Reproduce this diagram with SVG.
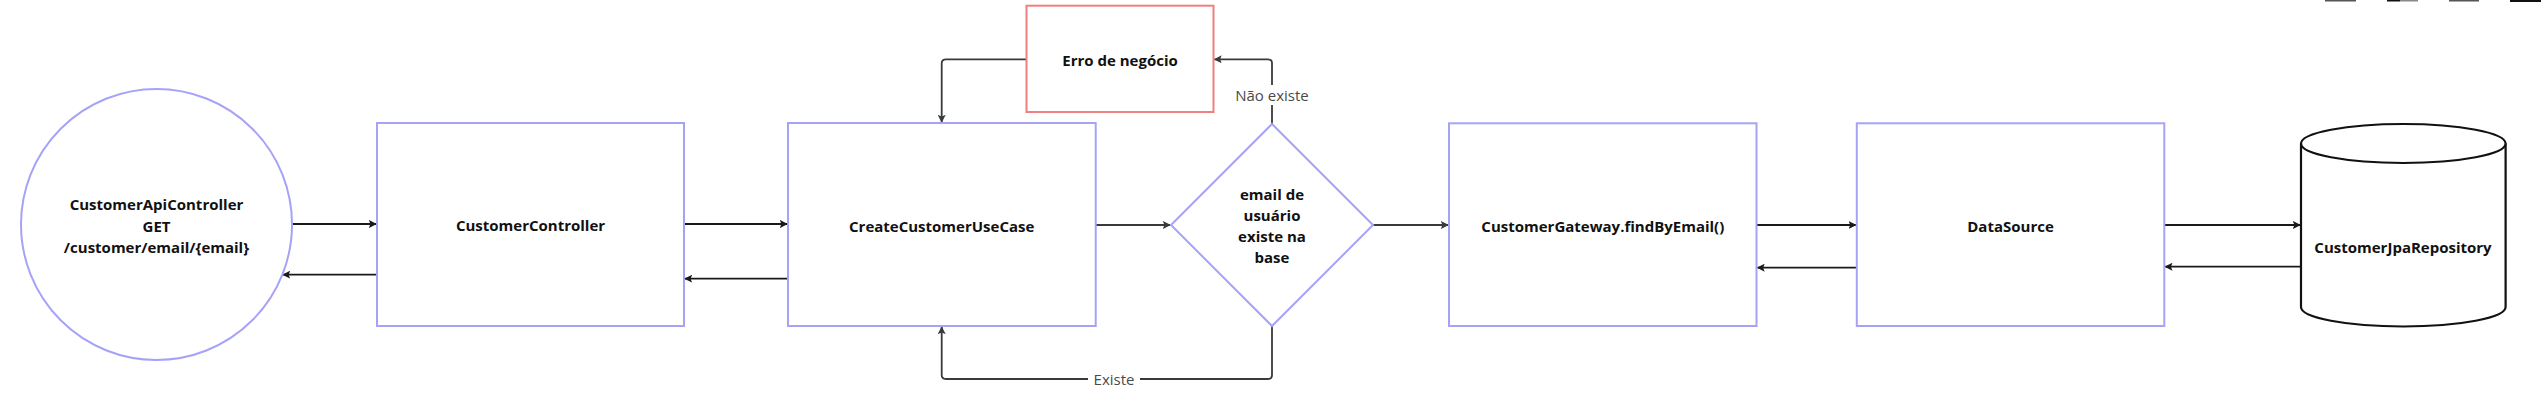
<svg xmlns="http://www.w3.org/2000/svg" width="2548" height="414" viewBox="0 0 2548 414">
  <style>
    .node { fill: #ffffff; stroke: #a6a3f7; stroke-width: 2; }
    .err { fill: #ffffff; stroke: #f07f7f; stroke-width: 2; }
    .db { fill: #ffffff; stroke: #111111; stroke-width: 2.2; }
    .t { font-family: "Open Sans", "Noto Sans", "Liberation Sans", sans-serif; font-size: 15px; font-weight: 700; fill: #111111; text-anchor: middle; dominant-baseline: central; }
    .lbl { font-family: "Open Sans", "Noto Sans", "Liberation Sans", sans-serif; font-size: 15px; font-weight: 400; fill: #4a4a4a; text-anchor: middle; dominant-baseline: central; }
    .c { fill: none; stroke: #1a1a1a; stroke-width: 1.8; }
    .cd { fill: none; stroke: #3a3a3a; stroke-width: 1.8; stroke-linejoin: round; }
  </style>
  <defs>
    <marker id="ah" viewBox="0 0 10 10" refX="9" refY="5" markerWidth="8" markerHeight="8" markerUnits="userSpaceOnUse" orient="auto">
      <path d="M0,0 L10,5 L0,10 L2,5 Z" fill="#1a1a1a"/>
    </marker>
    <marker id="ahd" viewBox="0 0 10 10" refX="9" refY="5" markerWidth="8" markerHeight="8" markerUnits="userSpaceOnUse" orient="auto">
      <path d="M0,0 L10,5 L0,10 L2,5 Z" fill="#3a3a3a"/>
    </marker>
  </defs>
  <rect width="2548" height="414" fill="#ffffff"/>

  <g id="toolbar-fragments">
    <rect x="2325" y="0" width="31" height="1.5" fill="#555555"/>
    <rect x="2387" y="0" width="13" height="1.5" fill="#111111"/>
    <rect x="2400" y="0" width="18" height="1.5" fill="#888888"/>
    <rect x="2449" y="0" width="30" height="1.5" fill="#555555"/>
    <rect x="2510" y="0" width="31" height="2" fill="#111111"/>
  </g>

  <g id="connectors">
    <line class="c" x1="292" y1="224" x2="376" y2="224" marker-end="url(#ah)"/>
    <line class="c" x1="377" y1="274.7" x2="283" y2="274.7" marker-end="url(#ah)"/>
    <line class="c" x1="684" y1="224" x2="787" y2="224" marker-end="url(#ah)"/>
    <line class="c" x1="788" y1="278.7" x2="685" y2="278.7" marker-end="url(#ah)"/>
    <line class="cd" x1="1096" y1="225" x2="1170" y2="225" marker-end="url(#ahd)"/>
    <line class="cd" x1="1373" y1="225" x2="1448" y2="225" marker-end="url(#ahd)"/>
    <path class="cd" d="M1272,124 V63 Q1272,59.3 1268,59.3 H1214.5" marker-end="url(#ahd)"/>
    <path class="cd" d="M1026.5,59.3 H946 Q941.7,59.3 941.7,63.5 V122" marker-end="url(#ahd)"/>
    <path class="cd" d="M1272,326 V375 Q1272,379 1268,379 H946 Q941.7,379 941.7,375 V327" marker-end="url(#ahd)"/>
    <line class="c" x1="1756.5" y1="225" x2="1855.8" y2="225" marker-end="url(#ah)"/>
    <line class="c" x1="1856.8" y1="267.7" x2="1757.5" y2="267.7" marker-end="url(#ah)"/>
    <line class="c" x1="2164.3" y1="225" x2="2300" y2="225" marker-end="url(#ah)"/>
    <line class="c" x1="2301" y1="266.7" x2="2165.3" y2="266.7" marker-end="url(#ah)"/>
    <rect x="1226" y="85" width="92" height="20" fill="#ffffff"/>
    <text class="lbl" x="1272" y="95">Não existe</text>
    <rect x="1088" y="369" width="52" height="20" fill="#ffffff"/>
    <text class="lbl" x="1114" y="379">Existe</text>
  </g>

  <g id="customer-api-controller">
    <circle class="node" cx="156.5" cy="224.5" r="135.5"/>
    <text class="t" x="156.5" y="204">CustomerApiController</text>
    <text class="t" x="156.5" y="225.5">GET</text>
    <text class="t" x="156.5" y="247">/customer/email/{email}</text>
  </g>

  <g id="customer-controller">
    <rect class="node" x="377" y="123" width="307" height="203"/>
    <text class="t" x="530.5" y="225">CustomerController</text>
  </g>

  <g id="create-customer-use-case">
    <rect class="node" x="788" y="123" width="307.7" height="203"/>
    <text class="t" x="941.7" y="225.5">CreateCustomerUseCase</text>
  </g>

  <g id="erro-de-negocio">
    <rect class="err" x="1026.5" y="5.7" width="187" height="106.3"/>
    <text class="t" x="1120" y="60">Erro de negócio</text>
  </g>

  <g id="decision-email-existe">
    <polygon class="node" points="1272,124 1373,225 1272,326 1171,225"/>
    <text class="t" x="1272" y="194">email de</text>
    <text class="t" x="1272" y="215">usuário</text>
    <text class="t" x="1272" y="236">existe na</text>
    <text class="t" x="1272" y="257">base</text>
  </g>

  <g id="customer-gateway">
    <rect class="node" x="1449" y="123.3" width="307.5" height="202.7"/>
    <text class="t" x="1602.8" y="226">CustomerGateway.findByEmail()</text>
  </g>

  <g id="data-source">
    <rect class="node" x="1856.8" y="123.3" width="307.5" height="202.7"/>
    <text class="t" x="2010.5" y="226">DataSource</text>
  </g>

  <g id="customer-jpa-repository">
    <path class="db" d="M2301,143.5 V307 A102.3,19.5 0 0 0 2505.6,307 V143.5"/>
    <ellipse class="db" cx="2403.3" cy="143.5" rx="102.3" ry="19.5"/>
    <text class="t" x="2403" y="246.7">CustomerJpaRepository</text>
  </g>
</svg>
